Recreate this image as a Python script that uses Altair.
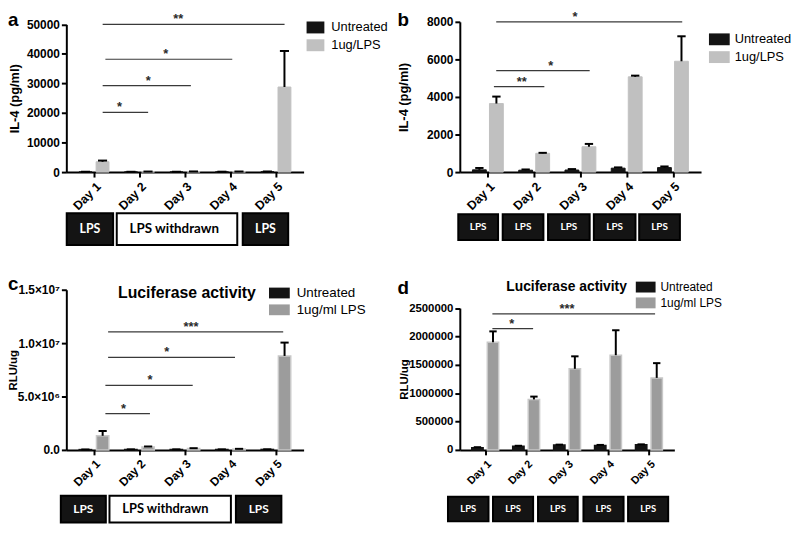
import altair as alt
import pandas as pd

DAYS = [1, 2, 3, 4, 5]

# ---------------- panel a : IL-4 (LPS withdrawn days 2-4)
a_groups = ["Untreated", "1ug/LPS"]
a_untreated = [80, 80, 90, 100, 150]
a_untreated_sd = [40, 30, 30, 40, 60]
a_lps = [3500, 150, 180, 160, 28800]
a_lps_sd = [400, 40, 40, 40, 12200]
a_yticks = [0, 10000, 20000, 30000, 40000, 50000]
a_sig_from = [1.19, 1.19, 1.25, 1.19]
a_sig_to = [2.19, 3.13, 4.04, 5.19]
a_sig_y = [20200, 29300, 38200, 50000]
a_sig_text = ["*", "*", "*", "**"]
a_sig_text_x = [1.56, 2.19, 2.58, 2.85]
a_box_from = [0.40, 1.50, 4.27]
a_box_to = [1.42, 4.15, 5.27]
a_box_text = ["LPS", "LPS withdrawn", "LPS"]

# ---------------- panel b : IL-4 (LPS every day)
b_groups = ["Untreated", "1ug/LPS"]
b_untreated = [120, 100, 110, 210, 240]
b_untreated_sd = [100, 40, 50, 40, 60]
b_lps = [3650, 1000, 1350, 5070, 5900]
b_lps_sd = [370, 25, 150, 65, 1330]
b_yticks = [0, 2000, 4000, 6000, 8000]
b_sig_from = [1.13, 1.18, 1.18]
b_sig_to = [2.22, 3.20, 5.20]
b_sig_y = [4550, 5400, 8000]
b_sig_text = ["**", "*", "*"]
b_sig_text_x = [1.73, 2.36, 2.88]
b_box_from = [0.36, 1.32, 2.30, 3.29, 4.27]
b_box_to = [1.22, 2.20, 3.20, 4.19, 5.15]
b_box_text = ["LPS", "LPS", "LPS", "LPS", "LPS"]

# ---------------- panel c : luciferase (LPS withdrawn days 2-4)
c_groups = ["Untreated", "1ug/ml LPS"]
c_untreated = [30000, 40000, 40000, 40000, 45000]
c_untreated_sd = [10000, 10000, 10000, 10000, 10000]
c_lps = [1320000, 280000, 130000, 80000, 8800000]
c_lps_sd = [450000, 40000, 30000, 20000, 1250000]
c_yticks = [0, 5000000, 10000000, 15000000]
c_ytick_labels = ["0.0", "5.0×10⁶", "1.0×10⁷", "1.5×10⁷"]
c_sig_from = [1.25, 1.25, 1.31, 1.31]
c_sig_to = [2.23, 3.17, 4.10, 5.16]
c_sig_y = [3400000, 6050000, 8670000, 11060000]
c_sig_text = ["*", "*", "*", "***"]
c_sig_text_x = [1.65, 2.23, 2.60, 3.13]
c_box_from = [0.27, 1.34, 4.12]
c_box_to = [1.26, 4.01, 5.12]
c_box_text = ["LPS", "LPS withdrawn", "LPS"]

# ---------------- panel d : luciferase (LPS every day)
d_groups = ["Untreated", "1ug/ml LPS"]
d_untreated = [40000, 65000, 85000, 80000, 90000]
d_untreated_sd = [8000, 8000, 8000, 8000, 8000]
d_lps = [1900000, 890000, 1430000, 1670000, 1270000]
d_lps_sd = [190000, 50000, 220000, 440000, 260000]
d_yticks = [0, 500000, 1000000, 1500000, 2000000, 2500000]
d_sig_from = [1.175, 1.175]
d_sig_to = [2.17, 5.15]
d_sig_y = [2140000, 2400000]
d_sig_text = ["*", "***"]
d_sig_text_x = [1.65, 3.0]
d_box_from = [0.09, 1.19, 2.29, 3.40, 4.49]
d_box_to = [1.08, 2.17, 3.26, 4.38, 5.47]
d_box_text = ["LPS", "LPS", "LPS", "LPS", "LPS"]

LABEL_FONT = "Liberation Sans"
BOX_FONT = "Lato"


def make_panel(letter, groups, unt, unt_sd, lps, lps_sd, yticks, ytick_labels, ytitle,
               sig_from, sig_to, sig_y, sig_text, sig_text_x,
               box_from, box_to, box_text, heading, st):
    W, H = st["w"], st["h"]
    xs = alt.Scale(domain=[0.5, 5.5], nice=False, zero=False)
    xax = alt.Axis(values=DAYS, labelExpr="'Day ' + datum.value", labelAngle=-45,
                   title=None, labelFontSize=st["xfs"], labelPadding=3)
    ys = alt.Scale(domain=[0, yticks[-1]], range=[H, st["ytop"]], nice=False, zero=True)
    yargs = dict(values=yticks, title=ytitle, labelFontSize=st["yfs"], titleFontSize=st["tfs"],
                 titleX=st["titleX"], labelPadding=2)
    if ytick_labels is not None:
        expr = "''"
        for v, t in zip(yticks, ytick_labels):
            expr = f"datum.value == {v} ? '{t}' : ({expr})"
        yargs["labelExpr"] = expr
    else:
        yargs["format"] = "d"
    yax = alt.Axis(**yargs)

    def X(f):
        return alt.X(f"{f}:Q", scale=xs, axis=xax)

    def Y(f):
        return alt.Y(f"{f}:Q", scale=ys, axis=yax)

    bars_df = pd.DataFrame({
        "day": DAYS * 2,
        "group": [groups[0]] * 5 + [groups[1]] * 5,
        "v": unt + lps,
        "sd": unt_sd + lps_sd,
    })
    off = st["off"]
    base = (alt.Chart(bars_df)
            .transform_calculate(x=f"datum.day + (datum.group == '{groups[0]}' ? {-off} : {off})")
            .transform_calculate(top="datum.v + datum.sd"))

    legend = alt.Legend(orient="none", legendX=st["lx"], legendY=st["ly"], title=None,
                        symbolType=st["sym"], symbolSize=st["ssize"], symbolStrokeWidth=0,
                        symbolOpacity=1, labelFont=LABEL_FONT, labelFontSize=st["lfs"],
                        labelColor="black", rowPadding=st["rowpad"], labelOffset=st["loff"],
                        padding=0)
    bar_kw = dict(size=st["bw"])
    if st.get("edge"):
        bar_kw.update(strokeWidth=1.5)
    bars = base.mark_bar(**bar_kw).encode(
        x=X("x"), y=Y("v"),
        color=alt.Color("group:N", scale=alt.Scale(domain=groups, range=["#141414", st["gray"]]),
                        legend=legend),
        stroke=alt.condition(f"datum.group == '{groups[0]}'", alt.value("#141414"),
                             alt.value(st.get("edge") or st["gray"])),
    )
    err = base.mark_rule(color="black", strokeWidth=2).encode(x=X("x"), y=Y("v"), y2=alt.Y2("top:Q"))
    cap = st["cap"]
    caps = (base.transform_calculate(xa=f"datum.x - {cap}")
            .transform_calculate(xb=f"datum.x + {cap}")
            .mark_rule(color="black", strokeWidth=2)
            .encode(x=X("xa"), x2=alt.X2("xb:Q"), y=Y("top")))

    sig_df = pd.DataFrame({"x": sig_from, "x2": sig_to, "v": sig_y, "label": sig_text, "tx": sig_text_x})
    sig_rule = alt.Chart(sig_df).mark_rule(color="#3a3a3a", strokeWidth=1.2).encode(
        x=X("x"), x2=alt.X2("x2:Q"), y=Y("v"))
    sig_lab = alt.Chart(sig_df).mark_text(font=LABEL_FONT, fontWeight="bold", fontSize=13,
                                          color="#2a2a2a", baseline="alphabetic", dy=st["sdy"]).encode(
        x=X("tx"), y=Y("v"), text="label:N")

    box_df = pd.DataFrame({"x": box_from, "x2": box_to, "label": box_text})
    y0, y1 = st["by0"], st["by1"]
    rect = alt.Chart(box_df).mark_rect(stroke="black", strokeWidth=2).encode(
        x=X("x"), x2=alt.X2("x2:Q"), y=alt.value(y0), y2=alt.value(y1),
        fill=alt.condition("datum.label == 'LPS'", alt.value("#141414"), alt.value("white")))
    lps_txt = (alt.Chart(box_df).transform_filter("datum.label == 'LPS'")
               .transform_calculate(mid="(datum.x + datum.x2) / 2")
               .mark_text(font=BOX_FONT, fontWeight="bold", fontSize=st["bfs"], color="white",
                          baseline="middle")
               .encode(x=X("mid"), y=alt.value((y0 + y1) / 2), text="label:N"))
    wd_txt = (alt.Chart(box_df).transform_filter("datum.label != 'LPS'")
              .mark_text(font=BOX_FONT, fontWeight="bold", fontSize=st["wfs"], color="black",
                         baseline="middle", align="left", dx=13)
              .encode(x=X("x"), y=alt.value((y0 + y1) / 2), text="label:N"))

    layers = [bars, err, caps, sig_rule, sig_lab, rect, lps_txt, wd_txt]
    letter_df = pd.DataFrame({"t": [letter]})
    layers.append(alt.Chart(letter_df).mark_text(font=LABEL_FONT, fontWeight="bold", fontSize=19,
                                                 align="left", baseline="alphabetic", color="black")
                  .encode(x=alt.value(st["ltx"]), y=alt.value(st["lty"]), text="t:N"))
    if heading:
        head_df = pd.DataFrame({"t": [heading]})
        layers.append(alt.Chart(head_df).mark_text(font=LABEL_FONT, fontWeight="bold",
                                                   fontSize=st["hfs"], baseline="middle",
                                                   color="black")
                      .encode(x=alt.value(st["hx"]), y=alt.value(st["hy"]), text="t:N"))
    return alt.layer(*layers).properties(width=W, height=H)


def rect_path(h):
    return f"M-1,-{h}H1V{h}H-1Z"


st_a = dict(w=240, h=152, ytop=2.6, bw=13, off=0.1875, cap=0.1, gray="#c0c0c0",
            lx=243, ly=-3.3, sym=rect_path(0.67), ssize=324, lfs=13, rowpad=2, loff=7,
            ltx=-59, lty=4.7, xfs=12.5, yfs=12, tfs=13, titleX=-45, sdy=-1,
            by0=193.7, by1=225.7, bfs=12.5, wfs=13.5)
st_b = dict(w=244, h=152, ytop=0, bw=14, off=0.184, cap=0.09, gray="#c0c0c0",
            lx=252, ly=7.2, sym=rect_path(0.57), ssize=441, lfs=13, rowpad=0, loff=5,
            ltx=-63, lty=4.7, xfs=12.5, yfs=12, tfs=13, titleX=-50, sdy=-1,
            by0=194.7, by1=220.7, bfs=10, wfs=10)
st_c = dict(w=240, h=162, ytop=0, bw=12.5, off=0.19, cap=0.09, gray="#9c9c9c", edge="#c8c8c8",
            lx=205, ly=-7.2, sym=rect_path(0.52), ssize=441, lfs=13.5, rowpad=-1, loff=7,
            ltx=-59, lty=0.3, xfs=12, yfs=12, tfs=11.5, titleX=-48, sdy=-1,
            by0=208.3, by1=235.5, bfs=12, wfs=13, hx=122, hy=3.3, hfs=16)
st_d = dict(w=217, h=162, ytop=18.6, bw=11.5, off=0.19, cap=0.09, gray="#9c9c9c", edge="#c8c8c8",
            lx=178, ly=-12.7, sym=rect_path(0.55), ssize=400, lfs=12, rowpad=-3, loff=5,
            ltx=-63, lty=4.3, xfs=11, yfs=11.5, tfs=11.5, titleX=-51, sdy=-1,
            by0=209.3, by1=234.3, bfs=9.5, wfs=9.5, hx=108, hy=-2.7, hfs=14)

pa = make_panel("a", a_groups, a_untreated, a_untreated_sd, a_lps, a_lps_sd, a_yticks, None,
                "IL-4 (pg/ml)", a_sig_from, a_sig_to, a_sig_y, a_sig_text, a_sig_text_x,
                a_box_from, a_box_to, a_box_text, None, st_a)
pb = make_panel("b", b_groups, b_untreated, b_untreated_sd, b_lps, b_lps_sd, b_yticks, None,
                "IL-4 (pg/ml)", b_sig_from, b_sig_to, b_sig_y, b_sig_text, b_sig_text_x,
                b_box_from, b_box_to, b_box_text, None, st_b)
pc = make_panel("c", c_groups, c_untreated, c_untreated_sd, c_lps, c_lps_sd, c_yticks, c_ytick_labels,
                "RLU/ug", c_sig_from, c_sig_to, c_sig_y, c_sig_text, c_sig_text_x,
                c_box_from, c_box_to, c_box_text, "Luciferase activity", st_c)
pd_ = make_panel("d", d_groups, d_untreated, d_untreated_sd, d_lps, d_lps_sd, d_yticks, None,
                 "RLU/ug", d_sig_from, d_sig_to, d_sig_y, d_sig_text, d_sig_text_x,
                 d_box_from, d_box_to, d_box_text, "Luciferase activity", st_d)

RES = dict(x="independent", y="independent", color="independent", stroke="independent")
row1 = alt.hconcat(pa, pb, spacing=158, bounds="flush").resolve_scale(**RES)
row2 = alt.hconcat(pc, pd_, spacing=158, bounds="flush").resolve_scale(**RES)
chart = (alt.vconcat(row1, row2, spacing=29).resolve_scale(**RES)
         .properties(padding=0, background="white")
         .configure_view(stroke=None)
         .configure_axis(domainColor="black", domainWidth=2, tickColor="black", tickWidth=2,
                         tickSize=5, labelColor="black", labelFont=LABEL_FONT,
                         labelFontWeight="bold", titleFont=LABEL_FONT, titleFontWeight="bold",
                         titleColor="black", grid=False))

chart.save("out.html", embed_options={"renderer": "svg", "actions": False})
